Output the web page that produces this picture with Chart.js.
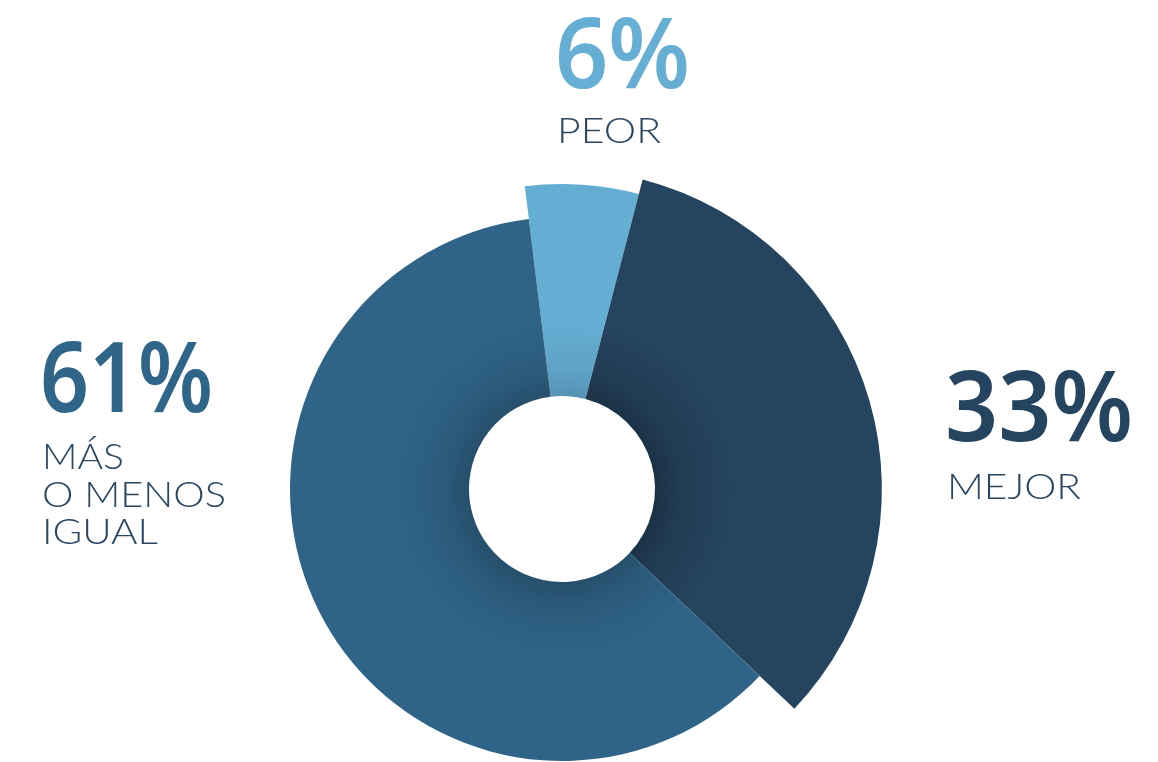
<!DOCTYPE html>
<html>
<head>
<meta charset="utf-8">
<script src="https://cdn.jsdelivr.net/npm/chart.js@4.4.1/dist/chart.umd.min.js"></script>
<style>
  html, body { margin: 0; padding: 0; background: #fff; }
  #wrap { width: 1158px; height: 762px; position: relative; }
</style>
</head>
<body>
<div id="wrap"><canvas id="donut"></canvas></div>
<script>
// data
const categories = ["PEOR", "MEJOR", "MÁS O MENOS IGUAL"];
const labelLines = [["PEOR"], ["MEJOR"], ["MÁS", "O MENOS", "IGUAL"]];
const percentages = [6, 33, 61];
const sliceColors = ["#65aed3", "#25445f", "#2f6488"];
const shadeColors = ["#5693b6", "#1c3246", "#264f6c"];
const numberColors = ["#66aed4", "#25445f", "#2f6588"];

// each slice sticks out a different amount (relative to the smallest ring)
const varRadius = {
  id: "varRadius",
  afterDatasetsUpdate(chart, args, opts) {
    const meta = chart.getDatasetMeta(0);
    const base = meta.controller.outerRadius;
    meta.data.forEach((arc, i) => {
      arc.outerRadius = base * opts.scale[i];
    });
  }
};

// draws text scaled to a given width
function fitText(ctx, text, x, y, width) {
  const w = ctx.measureText(text).width;
  ctx.save();
  ctx.translate(x, y);
  ctx.scale(width / w, 1);
  ctx.fillText(text, 0, 0);
  ctx.restore();
}

const sideLabels = {
  id: "sideLabels",
  afterDraw(chart, args, opts) {
    const ctx = chart.ctx;
    ctx.save();
    ctx.textAlign = "left";
    ctx.textBaseline = "alphabetic";
    opts.spots.forEach((s, i) => {
      ctx.fillStyle = numberColors[i];
      ctx.font = "600 98px 'Noto Sans', 'DejaVu Sans', sans-serif";
      fitText(ctx, percentages[i] + "%", s.x, s.y, s.w);
      ctx.fillStyle = "#2a4762";
      ctx.font = "300 36px 'Lato', 'Noto Sans', sans-serif";
      labelLines[i].forEach((line, j) => {
        fitText(ctx, line, s.x + 2, s.ly + j * 37.5, s.lw[j]);
      });
    });
    ctx.restore();
  }
};

function mix(c1, c2, t) {
  const p = (c, k) => parseInt(c.substr(1 + k * 2, 2), 16);
  const out = [0, 1, 2].map(k => Math.round(p(c1, k) + (p(c2, k) - p(c1, k)) * t));
  return "rgb(" + out.join(",") + ")";
}

// soft inner shadow around the hole
function shade(ctx) {
  const i = ctx.dataIndex;
  const chart = ctx.chart;
  const a = chart.chartArea;
  if (!a || i === undefined) return sliceColors[i] || sliceColors[0];
  const cx = (a.left + a.right) / 2;
  const cy = (a.top + a.bottom) / 2;
  const g = chart.ctx.createRadialGradient(cx, cy, 93, cx, cy, 170);
  g.addColorStop(0, shadeColors[i]);
  g.addColorStop(0.35, mix(shadeColors[i], sliceColors[i], 0.55));
  g.addColorStop(1, sliceColors[i]);
  return g;
}

new Chart(document.getElementById("donut").getContext("2d"), {
  type: "doughnut",
  data: {
    labels: categories,
    datasets: [{
      data: percentages,
      backgroundColor: shade,
      borderWidth: 0,
      clip: false
    }]
  },
  options: {
    responsive: true,
    maintainAspectRatio: false,
    animation: false,
    events: [],
    rotation: -7,
    cutout: 93,
    layout: { padding: { left: 290, top: 217, right: 324, bottom: 1 } },
    plugins: {
      legend: { display: false },
      tooltip: { enabled: false },
      varRadius: { scale: [1.121, 1.176, 1] },
      sideLabels: {
        spots: [
          { x: 555, y: 88, w: 135, ly: 143, lw: [104] },
          { x: 945, y: 441, w: 188, ly: 499, lw: [134] },
          { x: 40, y: 412, w: 173, ly: 469, lw: [82, 184, 116] }
        ]
      }
    }
  },
  plugins: [varRadius, sideLabels]
});
</script>
</body>
</html>
